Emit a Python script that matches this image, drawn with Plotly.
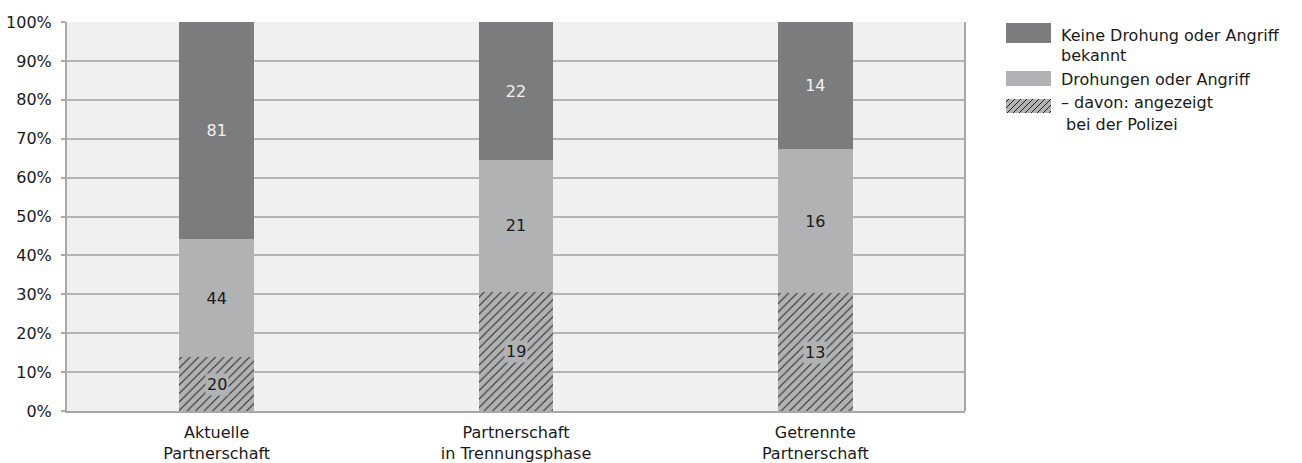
import plotly.graph_objects as go

categories = ["Aktuelle<br>Partnerschaft", "Partnerschaft<br>in Trennungsphase", "Getrennte<br>Partnerschaft"]
reported = [20, 19, 13]
threats = [44, 21, 16]
none_known = [81, 22, 14]
series_names = ["– davon: angezeigt bei der Polizei", "Drohungen oder Angriff", "Keine Drohung oder Angriff bekannt"]
y_ticks = list(range(0, 101, 10))
y_ticklabels = [f"{v}%" for v in y_ticks]

DARK = "#7b7c7e"
LIGHT = "#b1b2b4"
FONT = "DejaVu Sans"
FS = 16

W, H = 1302, 463
L, R, T, B = 67, 965, 22, 411

fig = go.Figure()
fig.add_bar(x=categories, y=reported, name=series_names[0], width=0.25,
            marker=dict(color=LIGHT, line=dict(width=0),
                        pattern=dict(shape="/", bgcolor=LIGHT, fgcolor="#222222", fgopacity=1, size=6, solidity=0.16)),
            showlegend=False, hoverinfo="skip")
fig.add_bar(x=categories, y=threats, name=series_names[1], width=0.25,
            marker=dict(color=LIGHT, line=dict(width=0)),
            text=threats, textposition="inside", insidetextanchor="middle",
            textfont=dict(color="#1a1a1a", size=FS, family=FONT),
            showlegend=False, hoverinfo="skip")
fig.add_bar(x=categories, y=none_known, name=series_names[2], width=0.25,
            marker=dict(color=DARK, line=dict(width=0)),
            text=none_known, textposition="inside", insidetextanchor="middle",
            textfont=dict(color="#f2f2f2", size=FS, family=FONT),
            showlegend=False, hoverinfo="skip")

annotations = []
for c, r, t, n in zip(categories, reported, threats, none_known):
    tot = r + t + n
    annotations.append(dict(x=c, y=r / tot * 100 / 2, xref="x", yref="y", text=str(r), showarrow=False,
                            bgcolor=LIGHT, borderpad=1, font=dict(color="#1a1a1a", size=FS, family=FONT)))

def px(x):
    return (x - L) / (R - L)

def py(y):
    return (B - y) / (B - T)

shapes = []
shapes.append(dict(type="line", xref="paper", yref="paper", x0=1, x1=1, y0=0, y1=1,
                   line=dict(color="#a8a8a8", width=2)))

sx0, sx1 = 1006, 1051
leg = [
    (23, 43, DARK, False, ["Keine Drohung oder Angriff", "bekannt"], 1059, 35),
    (71, 86, LIGHT, False, ["Drohungen oder Angriff"], 1059, 79),
    (99, 113, LIGHT, True, ["– davon: angezeigt", "bei der Polizei"], 1059, 103),
]
for y0, y1, col, hatch, lines, tx, ty in leg:
    shapes.append(dict(type="rect", xref="paper", yref="paper", x0=px(sx0), x1=px(sx1), y0=py(y1), y1=py(y0),
                       fillcolor=col, line=dict(width=0)))
    if hatch:
        c = sx0 + y0 + 3
        while c < sx1 + y1:
            xa = max(sx0, c - y1)
            xb = min(sx1, c - y0)
            if xb > xa:
                shapes.append(dict(type="line", xref="paper", yref="paper",
                                   x0=px(xa), y0=py(c - xa), x1=px(xb), y1=py(c - xb),
                                   line=dict(color="#222222", width=1)))
            c += 6
    for i, ln in enumerate(lines):
        indent = 5 if (hatch and i > 0) else 0
        annotations.append(dict(x=px(tx + indent), y=py(ty + i * 21), xref="paper", yref="paper",
                                text=ln, showarrow=False, xanchor="left", yanchor="middle",
                                font=dict(color="#1a1a1a", size=FS, family=FONT)))

fig.update_layout(
    width=W, height=H,
    margin=dict(l=L, r=W - R, t=T, b=H - B, pad=0, autoexpand=False),
    barmode="stack", barnorm="percent",
    plot_bgcolor="#eff0ef", paper_bgcolor="white",
    font=dict(family=FONT, size=FS, color="#1a1a1a"),
    showlegend=False,
    annotations=annotations, shapes=shapes,
    xaxis=dict(showgrid=False, showline=True, linecolor="#a8a8a8", linewidth=2, automargin=False,
               ticks="", ticklabelstandoff=6, tickfont=dict(size=FS, color="#1a1a1a", family=FONT)),
    yaxis=dict(range=[0, 100], tickmode="array", tickvals=y_ticks, ticktext=y_ticklabels, automargin=False,
               showgrid=True, gridcolor="#b4b4b4", gridwidth=2,
               showline=True, linecolor="#a8a8a8", linewidth=2, zeroline=False,
               ticks="outside", ticklen=4, tickwidth=2, tickcolor="#a8a8a8",
               ticklabelstandoff=6, tickfont=dict(size=FS, color="#1a1a1a", family=FONT)),
)

fig.write_html("out.html")
